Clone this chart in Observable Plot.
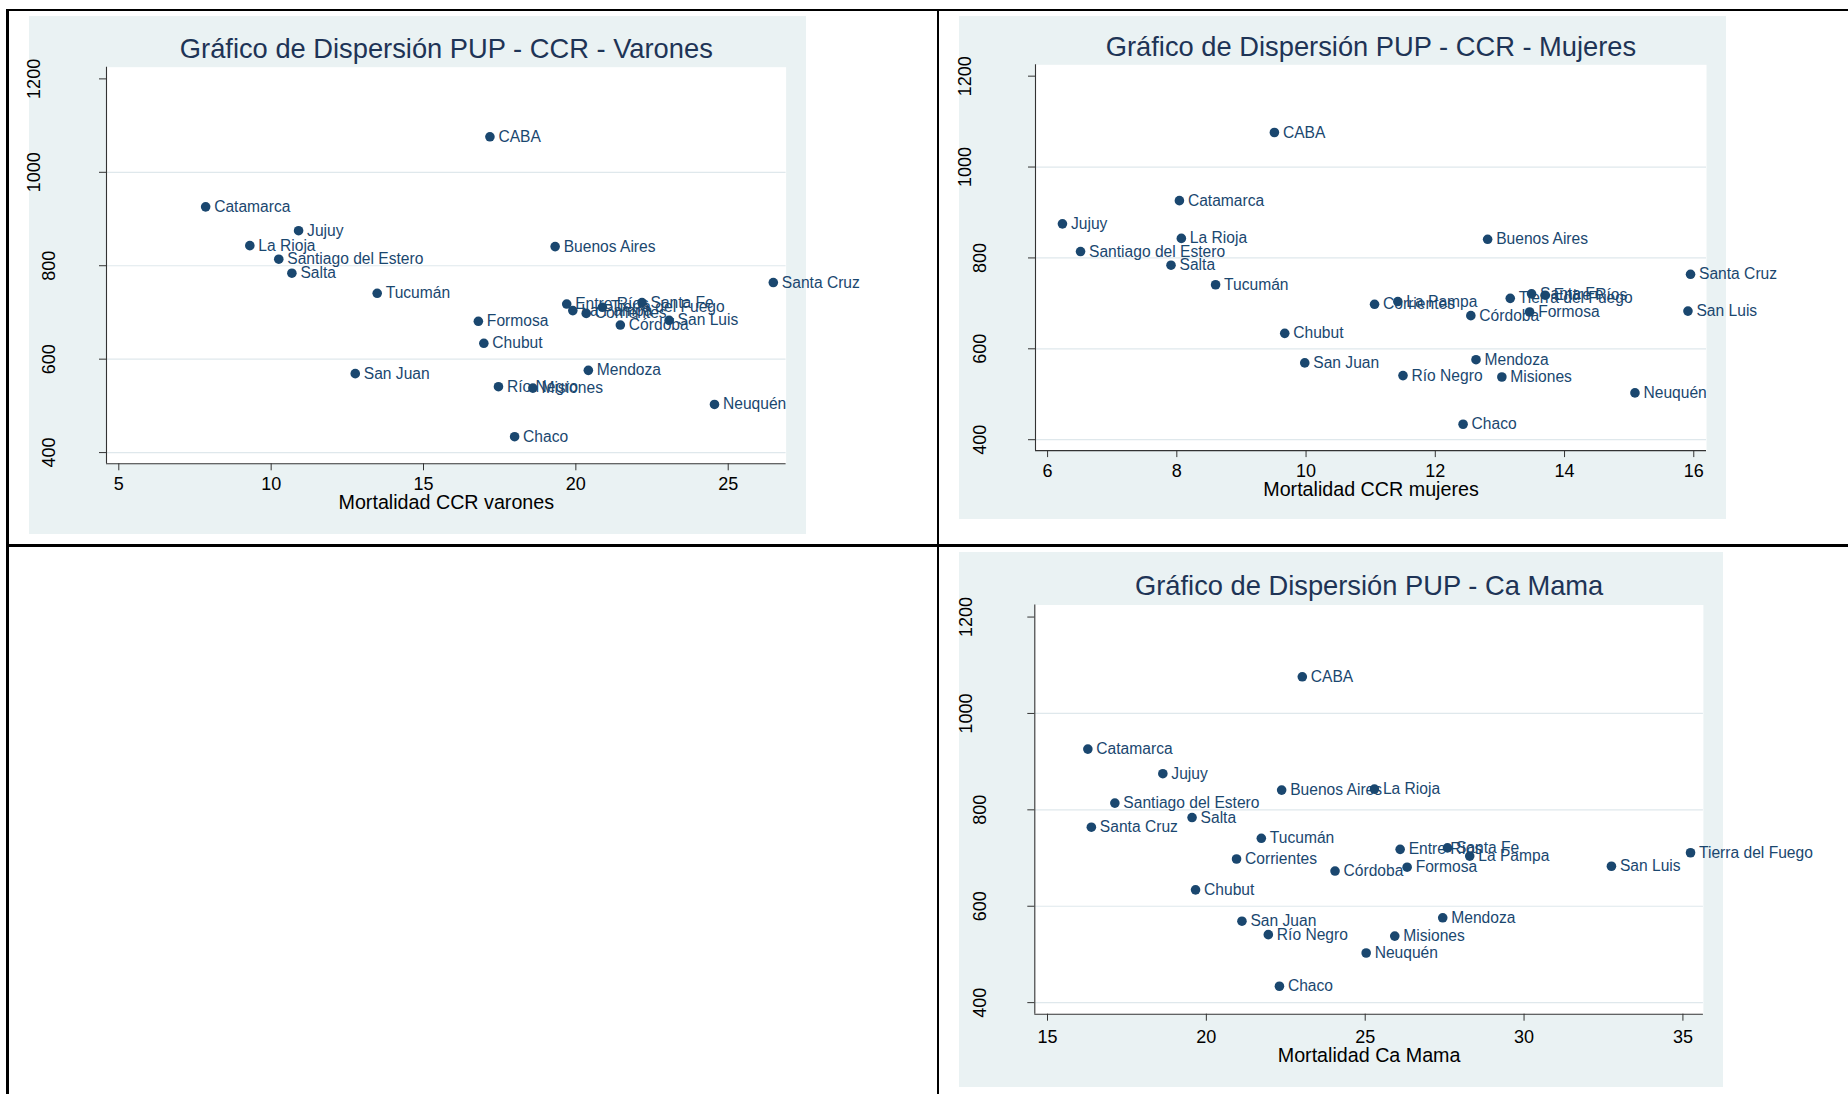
<!DOCTYPE html>
<html><head><meta charset="utf-8">
<script src="https://cdn.jsdelivr.net/npm/d3@7"></script>
<script src="https://cdn.jsdelivr.net/npm/@observablehq/plot@0.6"></script>
<style>
html,body{margin:0;padding:0;background:#fff;}
body{width:1848px;height:1094px;overflow:hidden;position:relative;font-family:"Liberation Sans",Arial,sans-serif;}
.line{position:absolute;background:#000;}
.panel{position:absolute;background:#eaf2f3;}
.panel svg{position:absolute;left:0;top:0;overflow:visible;max-width:none;}
</style></head><body>
<div class="line" style="left:6px;top:8.5px;width:1842px;height:2.5px"></div>
<div class="line" style="left:6px;top:8.5px;width:2.5px;height:1086px"></div>
<div class="line" style="left:936.8px;top:8.5px;width:2.5px;height:1086px"></div>
<div class="line" style="left:6px;top:544.3px;width:1842px;height:2.5px"></div>
<div id="p1" class="panel"></div>
<div id="p2" class="panel"></div>
<div id="p3" class="panel"></div>
<script>
// ---- data ----
const provinces = ["CABA","Catamarca","Jujuy","La Rioja","Buenos Aires","Santiago del Estero","Salta","Santa Cruz","Tucumán","Santa Fe","Entre Ríos","Tierra del Fuego","La Pampa","Corrientes","San Luis","Formosa","Córdoba","Chubut","Mendoza","San Juan","Río Negro","Misiones","Neuquén","Chaco"];
const pup = [1076, 926, 875, 843, 841, 814, 784, 764, 741, 721, 718, 711, 704, 698, 683, 681, 673, 634, 576, 569, 541, 538, 503, 434];
const ccrVarones = [17.18, 7.85, 10.90, 9.30, 19.32, 10.25, 10.68, 26.48, 13.48, 22.17, 19.70, 20.87, 19.90, 20.34, 23.06, 16.80, 21.46, 16.98, 20.41, 12.76, 17.46, 18.59, 24.55, 17.99];
const ccrMujeres = [9.51, 8.04, 6.23, 8.07, 12.81, 6.51, 7.91, 15.95, 8.60, 13.49, 13.70, 13.16, 11.42, 11.06, 15.91, 13.46, 12.55, 9.67, 12.63, 9.98, 11.50, 13.03, 15.09, 12.43];
const caMama = [23.02, 16.27, 18.63, 25.29, 22.37, 17.12, 19.55, 16.38, 21.73, 27.59, 26.10, 35.24, 28.29, 20.95, 32.75, 26.32, 24.05, 19.66, 27.44, 21.12, 21.95, 25.93, 25.03, 22.30];
const yTicks = [400, 600, 800, 1000, 1200];
const yTicksLong = [1000, 1200];
const yTicksShort = [400, 600, 800];
const gridTicks = [400, 600, 800, 1000];
const xTicksVarones = [5, 10, 15, 20, 25];
const xTicksMujeres = [6, 8, 10, 12, 14, 16];
const xTicksMama = [15, 20, 25, 30, 35];
const titles = ["Gráfico de Dispersión PUP - CCR - Varones", "Gráfico de Dispersión PUP - CCR - Mujeres", "Gráfico de Dispersión PUP - Ca Mama"];
const xLabels = ["Mortalidad CCR varones", "Mortalidad CCR mujeres", "Mortalidad Ca Mama"];

const navy = "#1a476f";
const titleColor = "#1e3456";
const axisColor = "#333";
const font = "'Liberation Sans', Arial, sans-serif";
const fmt = d => String(d);

function panel(id, cfg) {
  const el = document.getElementById(id);
  Object.assign(el.style, {left: cfg.left + "px", top: cfg.top + "px", width: cfg.w + "px", height: cfg.h + "px"});
  const data = provinces.map((name, i) => ({name, x: cfg.xs[i], y: pup[i]}));
  const chart = Plot.plot({
    width: cfg.w, height: cfg.h,
    marginLeft: cfg.m[0], marginRight: cfg.m[1], marginTop: cfg.m[2], marginBottom: cfg.m[3],
    style: {background: "transparent", fontFamily: font, overflow: "visible"},
    x: {domain: cfg.xDomain},
    y: {domain: [376, 1225]},
    marks: [
      Plot.frame({fill: "white", stroke: "none"}),
      Plot.gridY(gridTicks, {stroke: "#dfe8ec", strokeOpacity: 1, strokeWidth: 1.2}),
      Plot.ruleX([cfg.xDomain[0]], {stroke: axisColor, strokeWidth: 1.1}),
      Plot.ruleY([376], {stroke: axisColor, strokeWidth: 1.1}),
      Plot.axisX(cfg.xTicks, {tickSize: 7, tickPadding: cfg.xPad, fontSize: 18, color: "#000", stroke: axisColor, tickFormat: fmt, label: null}),
      Plot.axisY(yTicks, {tickSize: 7, text: null, stroke: axisColor, label: null}),
      Plot.axisY(yTicksLong, {tickSize: 0, tickPadding: cfg.off4, tickRotate: -90, fontSize: 18, color: "#000", tickFormat: fmt, label: null}),
      Plot.axisY(yTicksShort, {tickSize: 0, tickPadding: cfg.off3, tickRotate: -90, fontSize: 18, color: "#000", tickFormat: fmt, label: null}),
      Plot.text(data, {x: "x", y: "y", text: "name", dx: 8.5, textAnchor: "start", fill: navy, fontSize: 15.6}),
      Plot.dot(data, {x: "x", y: "y", r: 4.8, fill: navy, stroke: "none"}),
      Plot.text([cfg.title], {frameAnchor: "top", text: d => d, lineAnchor: "bottom", dy: cfg.titleDy, fontSize: 27.3, fill: titleColor}),
      Plot.text([cfg.xLabel], {frameAnchor: "bottom", text: d => d, lineAnchor: "bottom", dy: cfg.xlabDy, fontSize: 19.7, fill: "#000"})
    ]
  });
  el.appendChild(chart);
}

panel("p1", {left: 29, top: 16, w: 777, h: 518, m: [77, 20.4, 50.7, 70.7], xDomain: [4.596, 26.90], xs: ccrVarones, xTicks: xTicksVarones,
  title: titles[0], xLabel: xLabels[0], titleDy: -9.2, xlabDy: 45.3, xPad: 6.8, off4: 66.5, off3: 52});
panel("p2", {left: 959, top: 16, w: 767, h: 503, m: [76, 20, 48.3, 68.9], xDomain: [5.813, 16.197], xs: ccrMujeres, xTicks: xTicksMujeres,
  title: titles[1], xLabel: xLabels[1], titleDy: -8.5, xlabDy: 45, xPad: 6.2, off4: 65, off3: 50});
panel("p3", {left: 959, top: 552, w: 764, h: 535, m: [75.3, 20.1, 52.5, 73.3], xDomain: [14.60, 35.645], xs: caMama, xTicks: xTicksMama,
  title: titles[2], xLabel: xLabels[2], titleDy: -10.4, xlabDy: 48, xPad: 9.2, off4: 63, off3: 48.5});
</script>
</body></html>
